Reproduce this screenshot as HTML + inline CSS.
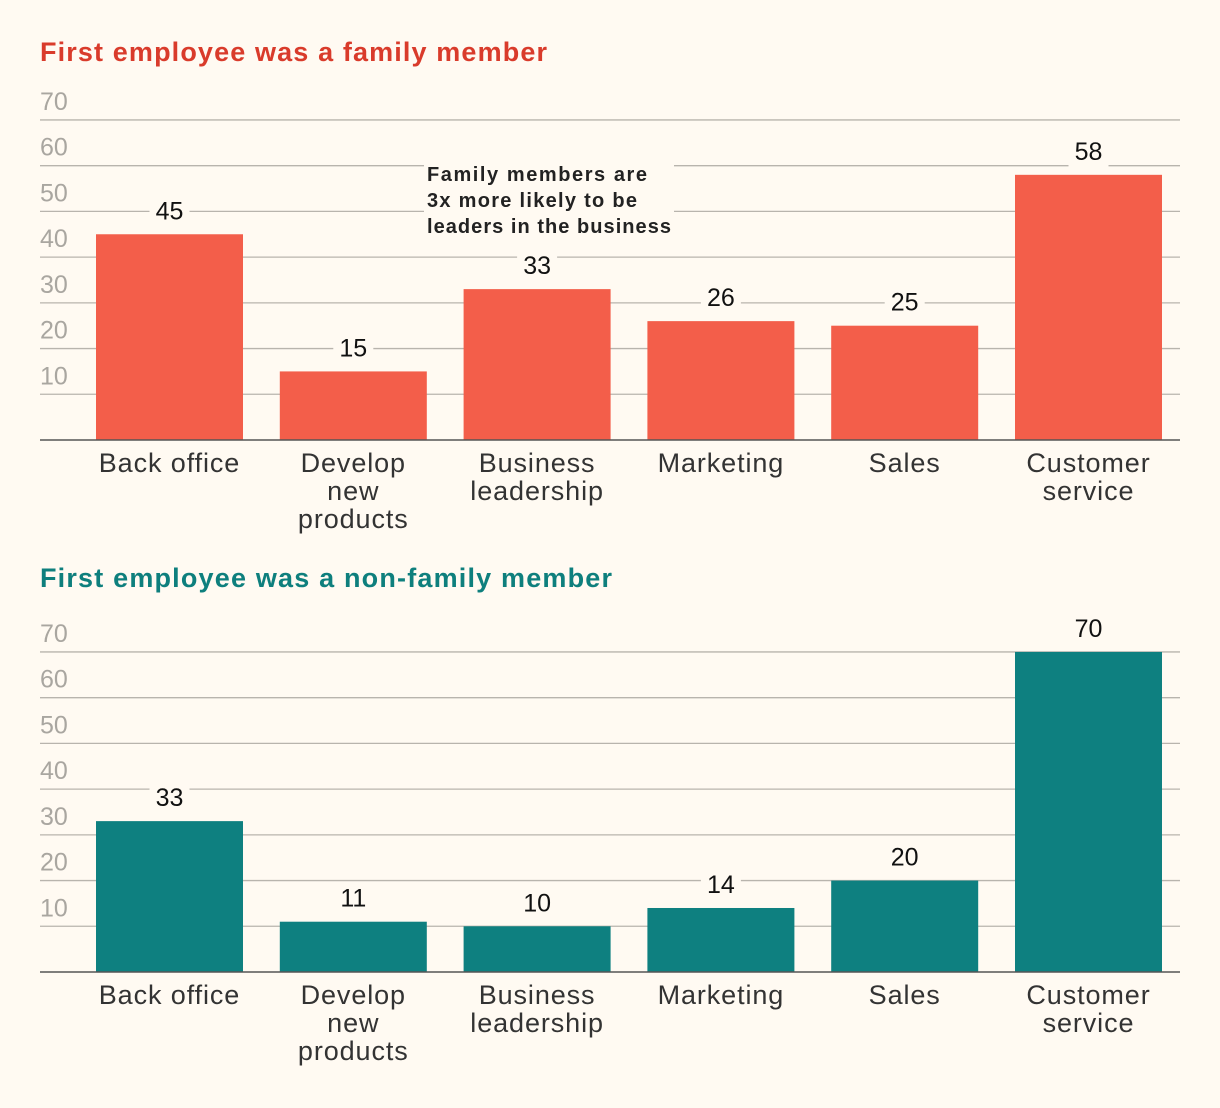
<!DOCTYPE html>
<html><head><meta charset="utf-8">
<style>
html,body{margin:0;padding:0;background:#fffaf2;}
svg{display:block;font-family:"Liberation Sans",sans-serif;}
</style></head>
<body>
<svg id="chart" width="1220" height="1108" viewBox="0 0 1220 1108">
<rect width="1220" height="1108" fill="#fffaf2"/>
<text x="40" y="61" font-size="27" font-weight="bold" fill="#d93b2b" textLength="507" lengthAdjust="spacing">First employee was a family member</text>
<text x="40" y="587" font-size="27" font-weight="bold" fill="#0e7f7d" textLength="572" lengthAdjust="spacing">First employee was a non-family member</text>
</svg>
<script>
const categories = [["Back office"],["Develop","new","products"],["Business","leadership"],["Marketing"],["Sales"],["Customer","service"]];
const familyValues = [45,15,33,26,25,58];
const nonFamilyValues = [33,11,10,14,20,70];
const tickValues = [10,20,30,40,50,60,70];
const NS="http://www.w3.org/2000/svg";
const svg=document.getElementById('chart');
function mk(tag,attrs,parent){const e=document.createElementNS(NS,tag);for(const k in attrs)e.setAttribute(k,attrs[k]);(parent||svg).appendChild(e);return e;}
function drawChart(values,baseY,color,prefix){
  const g=mk('g',{});
  
  
  const yScale=v=>baseY-v*4.572;
  const xBand=i=>96+i*183.8;
  const bw=147;
  tickValues.forEach(t=>{
    const y=yScale(t);
    const l=mk('line',{x1:40,x2:1180,y1:y,y2:y,stroke:'#b8b4ad','stroke-width':1.3},g);
    
    
    const tx=mk('text',{x:40,y:y-10,'font-size':25,fill:'#a9a6a0'},g);
    tx.textContent=t;
    
    
  });
  values.forEach((v,i)=>{
    const x=xBand(i),y=yScale(v);
    const r=mk('rect',{x:x,y:y,width:bw,height:baseY-y,fill:color},g);
    
    
    const bg=mk('rect',{x:x+bw/2-20,y:y-38,width:40,height:30,fill:'#fffaf2'},g);
    
    
    const t=mk('text',{x:x+bw/2,y:y-15,'font-size':25,fill:'#111','text-anchor':'middle'},g);
    t.textContent=v;
    
    
    categories[i].forEach((line,j)=>{
      const c=mk('text',{x:x+bw/2,y:baseY+32+j*28,'font-size':27,'letter-spacing':0.9,fill:'#333','text-anchor':'middle'},g);
      c.textContent=line;
      
      
    });
  });
  const b=mk('line',{x1:40,x2:1180,y1:baseY,y2:baseY,stroke:'#555','stroke-width':1.6},g);
  
  
}
drawChart(familyValues,440,'#f35e4a','family');
drawChart(nonFamilyValues,972,'#0e8080','nonfamily');
const ann=mk('g',{});


const abg=mk('rect',{x:424,y:162,width:250,height:74,fill:'#fffaf2'},ann);


[["Family members are",220],["3x more likely to be",210],["leaders in the business",244]].forEach((s,i)=>{
  const t=mk('text',{x:427,y:181+i*26,'font-size':20,'font-weight':'bold',fill:'#222',textLength:s[1],lengthAdjust:'spacing'},ann);
  t.textContent=s[0];
  
  
});
</script>
</body></html>
